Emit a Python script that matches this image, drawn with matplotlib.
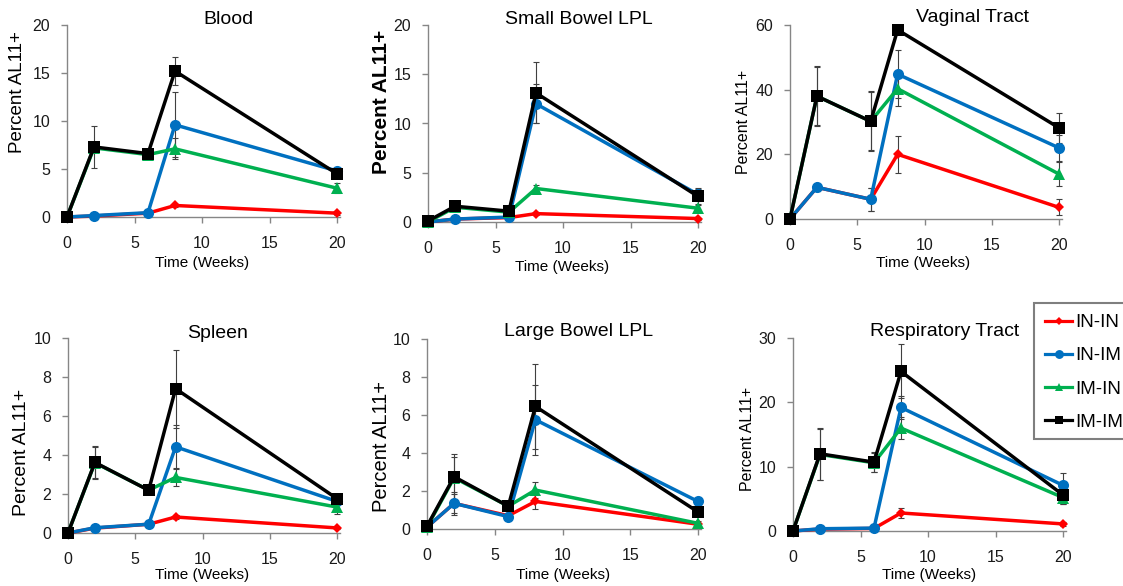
import matplotlib
matplotlib.use('Agg')
import matplotlib.pyplot as plt
from matplotlib.lines import Line2D
from matplotlib.patches import Rectangle

plt.rcParams['font.family'] = ['Liberation Sans', 'DejaVu Sans']

# ---------------- data ----------------
weeks = [0, 2, 6, 8, 20]
groups = ['IN-IN', 'IN-IM', 'IM-IN', 'IM-IM']
titles = ['Blood', 'Small Bowel LPL', 'Vaginal Tract',
          'Spleen', 'Large Bowel LPL', 'Respiratory Tract']
x_ticks = [0, 5, 10, 15, 20]

blood_in_in = [0, 0.1, 0.4, 1.2, 0.4]
blood_in_im = [0, 0.15, 0.45, 9.6, 4.8]
blood_im_in = [0, 7.2, 6.5, 7.1, 3.0]
blood_im_im = [0, 7.3, 6.6, 15.2, 4.5]
blood_err_in_in = [0, 0, 0.1, 0.2, 0.15]
blood_err_in_im = [0, 0.1, 0.2, 3.4, 0.3]
blood_err_im_in = [0, 0, 0.2, 1.1, 0.5]
blood_err_im_im = [0, 2.2, 0.4, 1.5, 0.3]

sb_in_in = [0, 0.3, 0.45, 0.85, 0.35]
sb_in_im = [0, 0.3, 0.5, 12.0, 2.8]
sb_im_in = [0, 1.5, 1.0, 3.4, 1.4]
sb_im_im = [0.1, 1.6, 1.1, 13.1, 2.6]
sb_err_in_in = [0, 0, 0, 0.15, 0.1]
sb_err_in_im = [0, 0.1, 0.1, 2.0, 0.7]
sb_err_im_in = [0, 0.2, 0.2, 0.35, 0.3]
sb_err_im_im = [0, 0.3, 0.3, 3.1, 0.8]

vag_in_in = [0, 9.8, 6.1, 20.0, 3.6]
vag_in_im = [0, 9.8, 6.1, 44.8, 22.0]
vag_im_in = [0, 38.0, 30.2, 40.3, 13.9]
vag_im_im = [0, 38.0, 30.2, 58.5, 28.2]
vag_err_in_in = [0, 1, 3.5, 5.7, 2.5]
vag_err_in_im = [0, 1, 3.6, 7.5, 4.0]
vag_err_im_in = [0, 9, 9, 5.3, 3.7]
vag_err_im_im = [0, 9.2, 9.3, 1.2, 4.6]

spl_in_in = [0, 0.25, 0.45, 0.82, 0.26]
spl_in_im = [0, 0.27, 0.45, 4.42, 1.62]
spl_im_in = [0, 3.6, 2.2, 2.85, 1.33]
spl_im_im = [0, 3.62, 2.19, 7.4, 1.76]
spl_err_in_in = [0, 0, 0.05, 0.1, 0.05]
spl_err_in_im = [0, 0.05, 0.1, 1.1, 0.15]
spl_err_im_in = [0, 0.8, 0.15, 0.45, 0.35]
spl_err_im_im = [0, 0.86, 0.15, 2.0, 0.15]

lb_in_in = [0.1, 1.35, 0.7, 1.45, 0.25]
lb_in_im = [0.1, 1.35, 0.65, 5.75, 1.45]
lb_im_in = [0.1, 2.7, 1.2, 2.05, 0.3]
lb_im_im = [0.15, 2.75, 1.2, 6.45, 0.9]
lb_err_in_in = [0, 0.5, 0.1, 0.4, 0.05]
lb_err_in_im = [0, 0.6, 0.1, 1.85, 0.1]
lb_err_im_in = [0, 1.1, 0.15, 0.4, 0.1]
lb_err_im_im = [0, 1.2, 0.15, 2.25, 0.15]

resp_in_in = [0, 0.3, 0.4, 2.8, 1.1]
resp_in_im = [0, 0.35, 0.45, 19.2, 7.1]
resp_im_in = [0, 11.9, 10.6, 16.0, 5.2]
resp_im_im = [0, 12.0, 10.7, 24.8, 5.6]
resp_err_in_in = [0, 0.1, 0.1, 0.8, 0.3]
resp_err_in_im = [0, 0.1, 0.2, 1.8, 1.9]
resp_err_im_in = [0, 3.9, 1.5, 1.7, 1.0]
resp_err_im_im = [0, 4.0, 1.6, 4.2, 1.4]

y_max = [20, 20, 60, 10, 10, 30]
y_step = [5, 5, 20, 2, 2, 10]

panel_values = [
    [blood_in_in, blood_in_im, blood_im_in, blood_im_im],
    [sb_in_in, sb_in_im, sb_im_in, sb_im_im],
    [vag_in_in, vag_in_im, vag_im_in, vag_im_im],
    [spl_in_in, spl_in_im, spl_im_in, spl_im_im],
    [lb_in_in, lb_in_im, lb_im_in, lb_im_im],
    [resp_in_in, resp_in_im, resp_im_in, resp_im_im],
]
panel_errors = [
    [blood_err_in_in, blood_err_in_im, blood_err_im_in, blood_err_im_im],
    [sb_err_in_in, sb_err_in_im, sb_err_im_in, sb_err_im_im],
    [vag_err_in_in, vag_err_in_im, vag_err_im_in, vag_err_im_im],
    [spl_err_in_in, spl_err_in_im, spl_err_im_in, spl_err_im_im],
    [lb_err_in_in, lb_err_in_im, lb_err_im_in, lb_err_im_im],
    [resp_err_in_in, resp_err_in_im, resp_err_im_in, resp_err_im_im],
]

# ---------------- styles / layout ----------------
W, H = 1123, 586
colors = ['#FF0000', '#0070C0', '#00B050', '#000000']
markers = ['D', 'o', '^', 's']
msizes = [5.5, 8, 8, 8]

# (left, top, right-at-x=20, bottom) pixel boxes
boxes = [
    (67, 25, 337, 217),
    (428, 25, 698, 222),
    (790, 25, 1059, 219),
    (68, 338, 337, 533),
    (427, 339, 698, 529),
    (793, 338, 1063, 531),
]
title_pos = [(228, 20), (579, 20), (972, 18), (218, 333), (579, 332), (945, 332)]
ylab_pos = [(18, 92), (382, 102), (744, 122), (22, 452), (382, 446), (747, 439)]
ylab_fs = [13.5, 15, 11.5, 14, 14.5, 11.5]
ylab_bold = [False, True, False, False, False, False]
xlab_pos = [(202, 263), (562, 267), (923, 263), (202, 575), (563, 575), (929, 575)]
tick_fs = [11.5, 11.5, 11.5, 11.5, 11.5, 11.5]

fig = plt.figure(figsize=(W / 100, H / 100), dpi=100)
axis_grey = '#868686'

for i in range(6):
    l, t, r20, b = boxes[i]
    xmax = 20.2
    width = (r20 - l) * xmax / 20.0
    ax = fig.add_axes([l / W, 1 - b / H, width / W, (b - t) / H])
    for k in range(4):
        ax.errorbar(weeks, panel_values[i][k], yerr=panel_errors[i][k], fmt='none',
                    ecolor='#404040', elinewidth=0.8, capsize=2.2, capthick=0.8,
                    zorder=2 + k * 0.01, clip_on=False)
    for k in range(4):
        ax.plot(weeks, panel_values[i][k], color=colors[k], marker=markers[k],
                markersize=msizes[k], linewidth=2.5, markeredgewidth=0,
                zorder=3 + k, clip_on=False, label=groups[k])
    ax.set_xlim(0, xmax)
    ax.set_ylim(0, y_max[i])
    ax.set_xticks(x_ticks)
    ax.set_yticks(list(range(0, y_max[i] + 1, y_step[i])))
    for s in ['top', 'right']:
        ax.spines[s].set_visible(False)
    for s in ['left', 'bottom']:
        ax.spines[s].set_color(axis_grey)
        ax.spines[s].set_linewidth(1.0)
    ax.tick_params(axis='both', direction='out', length=4, width=1.0,
                   color=axis_grey, labelsize=tick_fs[i], labelcolor='#1a1a1a')
    ax.tick_params(axis='x', pad=10)
    ax.tick_params(axis='y', pad=8)
    ax.patch.set_alpha(0)

    tx, ty = title_pos[i]
    fig.text(tx / W, 1 - ty / H, titles[i], ha='center', va='center', fontsize=14)
    yx, yy = ylab_pos[i]
    fig.text(yx / W, 1 - yy / H, 'Percent AL11+', ha='center', va='center',
             rotation=90, fontsize=ylab_fs[i],
             fontweight='bold' if ylab_bold[i] else 'normal')
    xx, xy = xlab_pos[i]
    fig.text(xx / W, 1 - xy / H, 'Time (Weeks)', ha='center', va='center', fontsize=11)

# legend frame (extends past the right edge of the figure, as in the original)
frame = Rectangle((1034 / W, 1 - 439 / H), 110 / W, 136 / H, transform=fig.transFigure,
                  facecolor='white', edgecolor='#7f7f7f', linewidth=1.5, zorder=0)
fig.patches.append(frame)

handles = [Line2D([], [], color=colors[k], marker=markers[k], markersize=msizes[k] * 0.8,
                  markeredgewidth=0, linewidth=2.3) for k in range(4)]
leg = fig.legend(handles, groups, loc='upper left',
                 bbox_to_anchor=(1034 / W, 1 - 303 / H), fontsize=13.5,
                 frameon=False, borderpad=0.6, labelspacing=0.85,
                 handlelength=1.45, handletextpad=0.15, borderaxespad=0)

fig.savefig('out.png', dpi=100)
